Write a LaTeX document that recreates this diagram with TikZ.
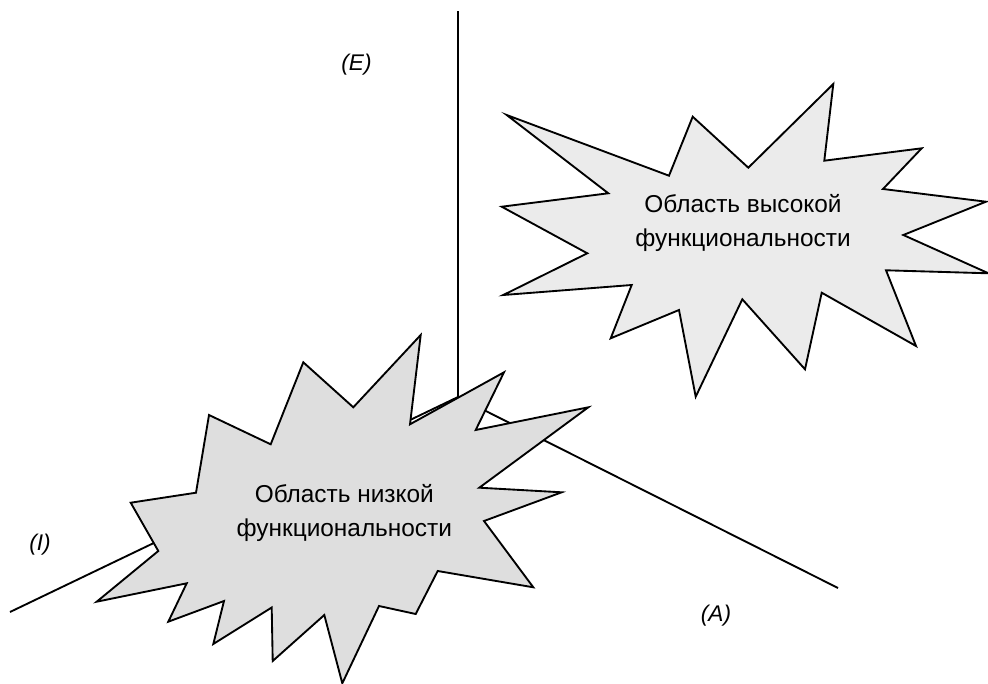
\documentclass[tikz,border=0pt]{standalone}
\usepackage{fontspec}
\setmainfont{Liberation Sans}
\begin{document}
\begin{tikzpicture}[x=0.75pt,y=-0.75pt,
  axisline/.style={line width=1.4pt},
  burst/.style={draw=black,line width=1.4pt,line join=miter},
  bursttext/.style={align=center,font=\fontsize{18.3}{25}\selectfont},
  axislabel/.style={font=\fontsize{17}{20}\selectfont\itshape}]
\useasboundingbox (0,0) rectangle (988,684);
\clip (0,0) rectangle (988,684);

% axes meeting at the origin
\coordinate (O) at (458,397);
\coordinate (Etop) at (458,11);
\coordinate (Iend) at (10,612);
\coordinate (Aend) at (838,588);
\draw[axisline] (O) -- (Etop);
\draw[axisline] (O) -- (Iend);
\draw[axisline] (O) -- (Aend);

% axis labels
\node[axislabel] (lblE) at (356.5,65) {(E)};
\node[axislabel] (lblI) at (40,545) {(I)};
\node[axislabel] (lblA) at (716,616) {(A)};

% high-functionality burst
\filldraw[burst,fill=black!8]
  (506.7,115) -- (669,175.7) -- (692.7,116.7) -- (748.3,167.7)
  -- (833.3,84) -- (824.3,160.7) -- (921.7,148.3) -- (883,189)
  -- (986,201.7) -- (903.3,235) -- (988.5,273.3) -- (886,270.3)
  -- (916,346) -- (821.7,292.7) -- (805,369.3) -- (742.3,299.3)
  -- (695.7,396.7) -- (679,310) -- (610.7,338.3) -- (631.7,285)
  -- (503.3,295) -- (587.3,253.3) -- (501.7,206.7) -- (608.3,193.3)
  -- cycle;
\node[bursttext] (high) at (743,223) {Область высокой\\функциональности};

% low-functionality burst
\filldraw[burst,fill=black!13]
  (130.7,502.7) -- (196,492.7) -- (209,415) -- (270.7,444.3)
  -- (303.3,362.3) -- (353.3,407.3) -- (420.7,335) -- (410,424.3)
  -- (504,372.3) -- (475.7,430) -- (588.3,407.3) -- (479.3,487.7)
  -- (561.7,492.3) -- (484,521) -- (533.3,587.3) -- (437.7,571)
  -- (415.7,614) -- (379,606) -- (342.3,683.3) -- (324.3,615)
  -- (272.7,661) -- (271.7,607.5) -- (213.3,644) -- (224,601)
  -- (168.3,621.7) -- (186.7,583.3) -- (96.7,601.7) -- (158.3,551)
  -- cycle;
\node[bursttext] (low) at (344.3,513) {Область низкой\\функциональности};
\end{tikzpicture}
\end{document}
